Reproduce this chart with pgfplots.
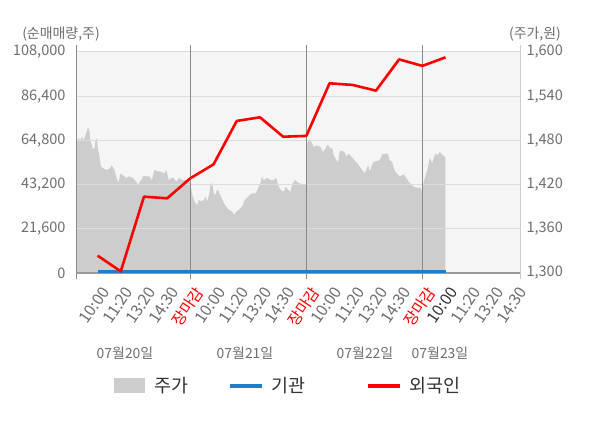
\documentclass[border=0pt]{standalone}
\usepackage{pgfplots}
\pgfplotsset{compat=1.18}
\usepackage{fontspec}
\setmainfont{Noto Sans CJK KR}
\definecolor{areagray}{HTML}{CDCDCD}
\definecolor{bgcol}{HTML}{F5F5F5}
\definecolor{gridcol}{HTML}{DDDDDD}
\definecolor{sepcol}{HTML}{8A8A8A}
\definecolor{edgecol}{HTML}{CCCCCC}
\definecolor{basecol}{HTML}{999999}
\definecolor{ticktext}{HTML}{6E6E6E}
\definecolor{darktext}{HTML}{333333}
\definecolor{legtext}{HTML}{333333}
\definecolor{bluecol}{HTML}{1B7FCC}
\definecolor{redcol}{HTML}{FF0000}
\newcommand{\mk}{\fontsize{15.5}{17}\selectfont\textcolor{redcol}{장마감}}

\pgfplotstableread{
u P
0.07 1300
0.07 1460
0.12 1480
0.18 1483
0.26 1480
0.32 1485
0.40 1480
0.48 1487
0.55 1494
0.59 1498
0.65 1492
0.69 1480
0.79 1469
0.87 1469
0.91 1480
0.97 1483
1.01 1469
1.08 1458
1.15 1444
1.30 1441
1.44 1440
1.53 1442
1.61 1446
1.73 1440
1.80 1431
1.90 1422
1.99 1435
2.09 1433
2.23 1429
2.37 1431
2.52 1429
2.66 1424
2.73 1420
2.88 1426
2.98 1432
3.09 1431
3.24 1431
3.34 1426
3.45 1440
3.57 1438
3.67 1438
3.77 1437
3.88 1435
3.96 1440
4.07 1426
4.17 1429
4.27 1429
4.39 1424
4.53 1429
4.67 1426
4.89 1426
4.96 1424
5.03 1415
5.10 1404
5.18 1397
5.29 1392
5.36 1399
5.48 1397
5.58 1399
5.65 1404
5.72 1397
5.82 1408
5.87 1420
5.94 1422
6.01 1408
6.08 1406
6.15 1413
6.22 1411
6.34 1402
6.44 1395
6.54 1390
6.65 1386
6.80 1383
6.89 1379
6.97 1383
7.09 1386
7.23 1390
7.34 1399
7.45 1402
7.56 1406
7.66 1408
7.81 1408
7.92 1415
8.02 1422
8.09 1431
8.16 1426
8.31 1429
8.45 1426
8.59 1426
8.70 1429
8.78 1420
8.88 1413
9.03 1410
9.10 1417
9.21 1413
9.31 1410
9.41 1422
9.53 1426
9.67 1422
9.89 1420
10.00 1420
10.03 1476
10.15 1482
10.25 1476
10.32 1471
10.46 1473
10.61 1471
10.72 1464
10.82 1469
10.92 1474
11.04 1469
11.11 1470
11.18 1460
11.30 1453
11.37 1450
11.44 1465
11.54 1466
11.64 1464
11.73 1458
11.83 1462
11.93 1458
12.02 1455
12.12 1451
12.22 1448
12.33 1443
12.45 1438
12.50 1435
12.59 1440
12.66 1447
12.73 1438
12.80 1444
12.90 1451
13.02 1452
13.16 1453
13.27 1461
13.41 1462
13.51 1462
13.59 1453
13.70 1451
13.77 1442
13.84 1437
13.94 1434
14.03 1431
14.13 1433
14.20 1434
14.31 1429
14.41 1424
14.52 1420
14.63 1417
14.77 1416
14.92 1416
14.99 1410
15.06 1424
15.13 1431
15.23 1442
15.32 1457
15.42 1449
15.49 1456
15.56 1462
15.66 1460
15.75 1464
15.85 1461
15.95 1458
15.99 1458
15.99 1300
}\pricetable

\pgfplotstableread{
u V
1 8500
2 800
3 37300
4 36500
5 46300
6 53100
7 74300
8 76100
9 66600
10 67000
11 92700
12 91900
13 89100
14 104400
15 101200
16 105400
}\foreigntable

\pgfplotstableread{
u V
1 500
2 500
3 500
4 500
5 500
6 500
7 500
8 500
9 500
10 500
11 500
12 500
13 500
14 500
15 500
16 500
}\insttable

\begin{document}
\begin{tikzpicture}
\useasboundingbox (0,0) rectangle (600bp,428bp);
% price axis (right)
\begin{axis}[
  at={(76bp,155bp)}, anchor=south west,
  scale only axis, width=444bp, height=221bp,
  xmin=0.07, xmax=19.21, ymin=1300, ymax=1600,
  axis background/.style={fill=bgcol},
  axis line style={draw=none},
  axis on top,
  ytick={1300,1360,1420,1480,1540,1600},
  ymajorgrids, major grid style={draw=gridcol, line width=1bp},
  yticklabel pos=right,
  y tick style={draw=none},
  yticklabel style={font=\fontsize{14.6}{17}\selectfont, text=ticktext, anchor=west, xshift=3bp},
  scaled y ticks=false,
  xtick={1,...,19},
  xticklabels={10:00,11:20,13:20,14:30,\mk,10:00,11:20,13:20,14:30,\mk,10:00,11:20,13:20,14:30,\mk,\textcolor{darktext}{10:00},11:20,13:20,14:30},
  x tick style={draw=none},
  xticklabel style={font=\fontsize{16}{18}\selectfont, text=ticktext, inner sep=0pt, xshift=3bp, yshift=-12bp, rotate=56, anchor=north east},
  /pgf/number format/fixed,
  /pgf/number format/precision=0,
  /pgf/number format/1000 sep={,},
  /pgf/number format/assume math mode=true,
]
\addplot[fill=areagray, draw=none] table[x=u, y=P] {\pricetable};
\end{axis}
% quantity axis (left)
\begin{axis}[
  at={(76bp,155bp)}, anchor=south west,
  scale only axis, width=444bp, height=221bp,
  xmin=0.07, xmax=19.21, ymin=0, ymax=108000,
  axis line style={draw=none},
  xtick=\empty,
  ytick={0,21600,43200,64800,86400,108000},
  y tick style={draw=none},
  yticklabel style={font=\fontsize{14.6}{17}\selectfont, text=ticktext, anchor=east, xshift=-7bp},
  scaled y ticks=false,
  clip=false,
  /pgf/number format/fixed,
  /pgf/number format/precision=0,
  /pgf/number format/1000 sep={,},
  /pgf/number format/assume math mode=true,
]
\draw[basecol, line width=1.5bp] (axis cs:0.07,0) -- (axis cs:19.21,0);
\draw[sepcol, line width=1bp] ([yshift=-6bp]axis cs:0.07,0) -- ([yshift=7bp]axis cs:0.07,108000);
\draw[edgecol, line width=1bp] ([yshift=-6bp]axis cs:19.21,0) -- ([yshift=7bp]axis cs:19.21,108000);
\draw[sepcol, line width=1bp] ([yshift=-6bp]axis cs:5,0) -- ([yshift=7bp]axis cs:5,108000);
\draw[sepcol, line width=1bp] ([yshift=-6bp]axis cs:10,0) -- ([yshift=7bp]axis cs:10,108000);
\draw[sepcol, line width=1bp] ([yshift=-6bp]axis cs:15,0) -- ([yshift=7bp]axis cs:15,108000);
\addplot[bluecol, line width=3bp, no marks] table[x=u, y=V] {\insttable};
\addplot[redcol, line width=2.6bp, no marks, line join=round] table[x=u, y=V] {\foreigntable};
\end{axis}
% axis titles
\node[font=\fontsize{14}{16}\selectfont, text=ticktext] at (61bp,394bp) {(순매매량,주)};
\node[font=\fontsize{14}{16}\selectfont, text=ticktext] at (535bp,394bp) {(주가,원)};
% date labels
\begin{scope}[every node/.style={font=\fontsize{14}{16}\selectfont, text=ticktext}]
\node at (125bp,75bp) {07월20일};
\node at (245bp,75bp) {07월21일};
\node at (365bp,75bp) {07월22일};
\node at (440bp,75bp) {07월23일};
\end{scope}
% legend
\fill[areagray] (114bp,35bp) rectangle (145bp,50bp);
\node[anchor=west, font=\fontsize{18.5}{21}\selectfont, text=legtext, inner sep=0pt] at (154bp,42bp) {주가};
\draw[bluecol, line width=3.5bp] (230bp,42bp) -- (262bp,42bp);
\node[anchor=west, font=\fontsize{18.5}{21}\selectfont, text=legtext, inner sep=0pt] at (271bp,42bp) {기관};
\draw[redcol, line width=3.5bp] (368bp,42bp) -- (400bp,42bp);
\node[anchor=west, font=\fontsize{18.5}{21}\selectfont, text=legtext, inner sep=0pt] at (409bp,42bp) {외국인};
\end{tikzpicture}
\end{document}
